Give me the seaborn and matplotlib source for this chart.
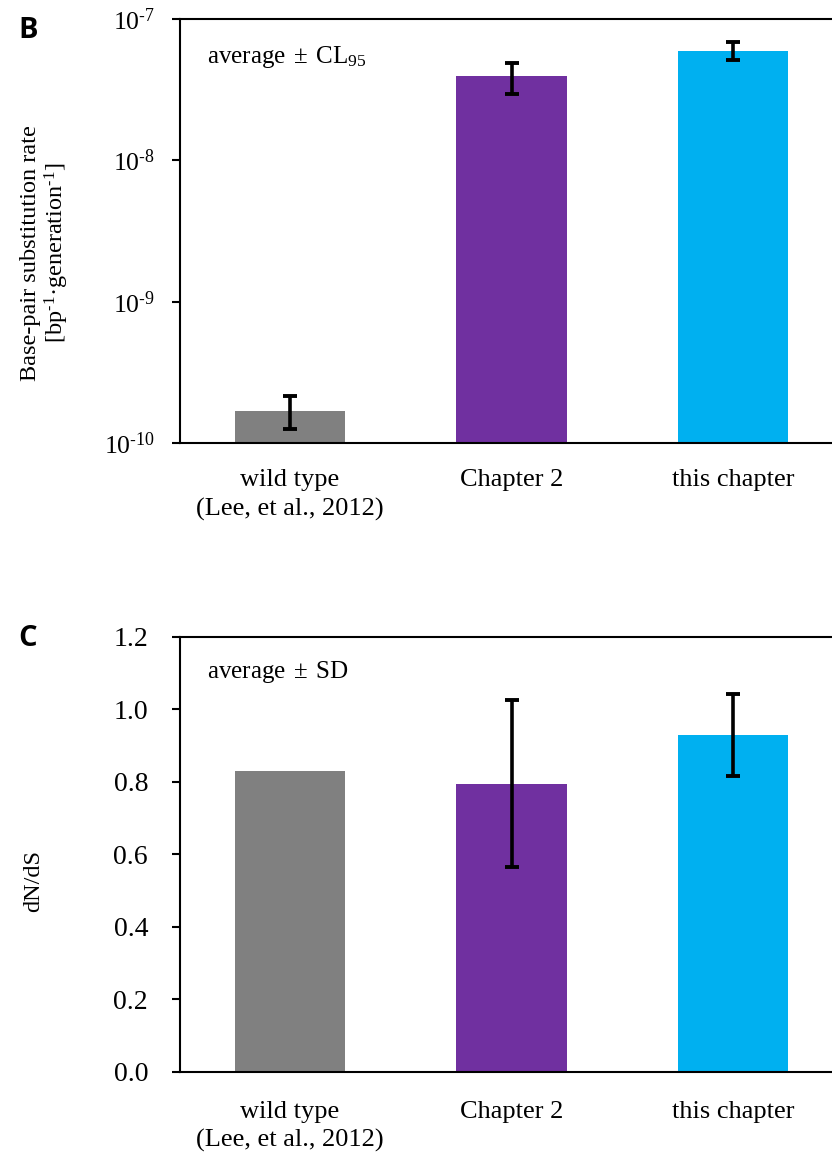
import numpy as np
import matplotlib
matplotlib.use("Agg")
import matplotlib.pyplot as plt
from matplotlib.ticker import NullLocator, FixedLocator, FormatStrFormatter, FuncFormatter
import seaborn as sns

# Categories shared by both panels
categories = ["wild type\n(Lee, et al., 2012)", "Chapter 2", "this chapter"]
colors = ["#808080", "#7030A0", "#00B0F0"]

# Panel B: base-pair substitution rate (average with 95% confidence limits)
rate = [1.68e-10, 3.93e-8, 5.94e-8]
rate_low = [1.26e-10, 2.96e-8, 5.13e-8]
rate_high = [2.15e-10, 4.92e-8, 6.84e-8]

# Panel C: dN/dS (average with standard deviation; none for wild type)
dnds = [0.83, 0.795, 0.929]
dnds_sd = [np.nan, 0.23, 0.113]
dnds_ticks = [0.0, 0.2, 0.4, 0.6, 0.8, 1.0, 1.2]

sns.set_theme(style="white")
plt.rcParams["font.family"] = ["Liberation Serif", "DejaVu Serif"]
plt.rcParams["mathtext.fontset"] = "stix"
plt.rcParams["mathtext.default"] = "regular"

W, H = 832, 1156
fig = plt.figure(figsize=(W / 100, H / 100), dpi=100)
fig.patch.set_facecolor("white")

ax_b = fig.add_axes([180 / W, 1 - 443 / H, 660 / W, 424 / H])
ax_c = fig.add_axes([180 / W, 1 - 1071.7 / H, 660 / W, 435 / H])


def draw_bars(ax, values):
    sns.barplot(x=categories, y=values, hue=categories, palette=colors,
                width=0.5, saturation=1, legend=False, ax=ax,
                edgecolor="none", linewidth=0)


def style_axes(ax, ytick_size, ytick_pad, xtick_pad):
    for side in ["left", "bottom", "top"]:
        ax.spines[side].set_visible(True)
        ax.spines[side].set_color("black")
        ax.spines[side].set_linewidth(1.5)
    ax.spines["right"].set_visible(False)
    ax.set_xlim(-0.497, 2.483)
    ax.tick_params(axis="y", which="major", direction="out", length=6,
                   width=1.5, color="black", left=True,
                   labelsize=ytick_size, pad=ytick_pad, labelcolor="black")
    ax.tick_params(axis="x", length=0, labelsize=19, pad=xtick_pad,
                   labelcolor="black")
    for lbl in ax.get_xticklabels():
        lbl.set_linespacing(1.35)
    ax.set_xlabel("")
    ax.grid(False)
    ax.set_facecolor("white")


def add_errorbars(ax, lower_err, upper_err):
    centers = [p.get_x() + p.get_width() / 2 for p in ax.patches[:len(categories)]]
    heights = [p.get_height() for p in ax.patches[:len(categories)]]
    for x, h, lo, hi in zip(centers, heights, lower_err, upper_err):
        if np.isnan(lo) or np.isnan(hi):
            continue
        ax.errorbar(x, h, yerr=[[lo], [hi]], fmt="none", ecolor="black",
                    elinewidth=2.6, capsize=4.7, capthick=2.8, zorder=5)


def decade_label(value, pos):
    exponent = int(round(np.log10(value)))
    return r"$10^{\text{-}%d}$" % abs(exponent)


# ---- Panel B ----
draw_bars(ax_b, rate)
ax_b.set_yscale("log")
ax_b.set_ylim(1e-10, 1e-7)
ax_b.yaxis.set_minor_locator(NullLocator())
ax_b.yaxis.set_major_formatter(FuncFormatter(decade_label))
style_axes(ax_b, 18.5, 12, 19)
add_errorbars(ax_b,
              [r - l for r, l in zip(rate, rate_low)],
              [h - r for r, h in zip(rate, rate_high)])
ax_b.set_ylabel("Base-pair substitution rate\n"
                r"[bp$^{\text{-}1}$" "\u00b7" r"generation$^{\text{-}1}$]",
                fontsize=17.5, linespacing=1.1, color="black")
ax_b.yaxis.set_label_coords(-0.165, 0.448)
ax_b.text(0.041, 0.896, r"average$\;\pm\;$CL$_{95}$", transform=ax_b.transAxes,
          fontsize=18, va="baseline", ha="left", color="black")

# ---- Panel C ----
draw_bars(ax_c, dnds)
ax_c.set_ylim(0, 1.2)
ax_c.yaxis.set_major_locator(FixedLocator(dnds_ticks))
ax_c.yaxis.set_major_formatter(FormatStrFormatter("%.1f"))
style_axes(ax_c, 20, 17, 21)
add_errorbars(ax_c, dnds_sd, dnds_sd)
ax_c.set_ylabel("dN/dS", fontsize=17.5, color="black")
ax_c.yaxis.set_label_coords(-0.206, 0.438)
ax_c.text(0.041, 0.905, r"average$\;\pm\;$SD", transform=ax_c.transAxes,
          fontsize=18, va="baseline", ha="left", color="black")

# Panel letters
for letter, ypix in [("B", 30), ("C", 639)]:
    fig.text(28 / W, 1 - ypix / H, letter, fontsize=21, fontweight="bold",
             family=["Open Sans", "DejaVu Sans"], ha="center", va="center",
             color="black")

fig.savefig("out.png", dpi=100, facecolor="white")
